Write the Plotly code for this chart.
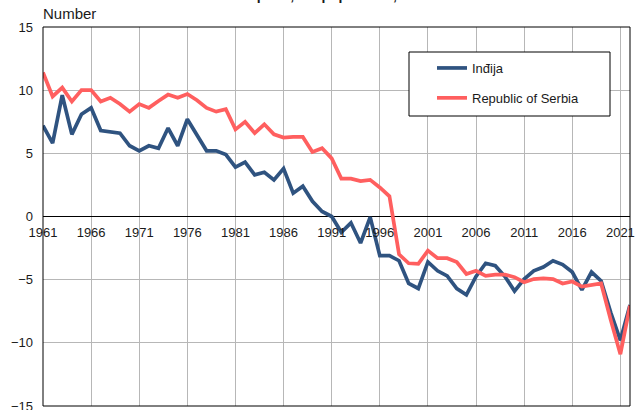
import plotly.graph_objects as go

years = list(range(1961, 2023))

indjija = [
    7.2, 5.8, 9.6, 6.5, 8.1, 8.6, 6.8, 6.7, 6.6, 5.6,
    5.2, 5.6, 5.4, 7.0, 5.6, 7.7, 6.4, 5.2, 5.2, 4.9,
    3.9, 4.3, 3.3, 3.5, 2.9, 3.8, 1.85, 2.4, 1.2, 0.4,
    0.0, -1.25, -0.5, -2.1, -0.05, -3.1, -3.1, -3.5, -5.3, -5.7,
    -3.6, -4.3, -4.7, -5.7, -6.2, -4.75, -3.7, -3.9, -4.75, -5.9,
    -4.95, -4.3, -4.0, -3.5, -3.8, -4.4, -5.8, -4.4, -5.1, -7.6,
    -9.8, -7.0,
]

serbia = [
    11.4, 9.5, 10.2, 9.1, 10.0, 10.0, 9.1, 9.4, 8.9, 8.3,
    8.9, 8.6, 9.15, 9.65, 9.4, 9.7, 9.2, 8.6, 8.3, 8.5,
    6.9, 7.5, 6.6, 7.3, 6.5, 6.25, 6.3, 6.3, 5.1, 5.4,
    4.6, 3.0, 3.0, 2.8, 2.9, 2.3, 1.6, -3.0, -3.7, -3.75,
    -2.7, -3.3, -3.3, -3.6, -4.55, -4.3, -4.7, -4.6, -4.6, -4.8,
    -5.2, -4.95, -4.9, -4.95, -5.3, -5.15, -5.55, -5.4, -5.3, -8.2,
    -10.9, -7.05,
]

tick_years = list(range(1961, 2023, 5))
font = "Arial, Liberation Sans, sans-serif"

fig = go.Figure()
fig.add_trace(go.Scatter(x=years, y=indjija, mode="lines", name="Inđija",
                         legendgroup="a",
                         line=dict(color="#2F5380", width=3.7)))
fig.add_trace(go.Scatter(x=years, y=serbia, mode="lines", name="Republic of Serbia",
                         legendgroup="b",
                         line=dict(color="#FF5F5F", width=3.7)))

fig.update_layout(
    width=644, height=410,
    margin=dict(l=43, r=14, t=27, b=4, autoexpand=False),
    plot_bgcolor="white", paper_bgcolor="white",
    font=dict(family=font, size=13, color="#1a1a1a"),
    showlegend=True,
    legend=dict(x=(432 - 43) / 587, y=(406 - 53) / 379, xanchor="left", yanchor="top",
                bgcolor="rgba(0,0,0,0)", borderwidth=0, tracegroupgap=10,
                font=dict(size=13)),
    shapes=[
        # legend box
        dict(type="rect", xref="paper", yref="paper",
             x0=(409 - 43) / 587, x1=(610 - 43) / 587,
             y0=(406 - 116) / 379, y1=(406 - 52) / 379,
             line=dict(color="black", width=1), fillcolor="white", layer="above"),
        # plot frame
        dict(type="rect", xref="paper", yref="paper", x0=0, x1=1, y0=0, y1=1,
             line=dict(color="black", width=1), layer="above"),
    ],
    annotations=[
        dict(text="Number", xref="paper", yref="paper", x=0, y=1,
             xanchor="left", yanchor="bottom", yshift=3, xshift=-2, showarrow=False,
             font=dict(size=15)),
        dict(text="<b>Natural increase per 1,000 population, 1961–2022</b>",
             xref="paper", yref="paper", x=0.45, y=1, xanchor="center",
             yanchor="bottom", yshift=22, showarrow=False,
             font=dict(size=14)),
    ],
)

fig.update_xaxes(
    range=[1961, 2022], tickvals=tick_years, ticktext=[str(y) for y in tick_years],
    showgrid=True, gridcolor="#B7B7B7", gridwidth=1,
    showline=False, zeroline=False, anchor="free", position=0.5,
    ticks="", ticklabelstandoff=6, automargin=False, ticklabeloverflow="allow",
)
fig.update_yaxes(
    range=[-15, 15], dtick=5, showgrid=True, gridcolor="#B7B7B7", gridwidth=1,
    zeroline=True, zerolinecolor="black", zerolinewidth=1,
    showline=False, ticks="", ticklabelstandoff=9, automargin=False,
    ticklabeloverflow="allow",
)

fig.write_html("out.html", config={"displayModeBar": False},
               post_script="document.body.style.margin='0';")
